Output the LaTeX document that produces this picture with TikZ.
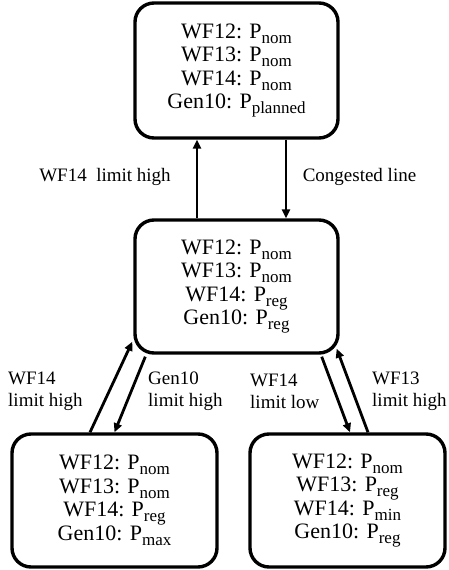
\documentclass[tikz,border=0pt]{standalone}
\usepackage{fontspec}
\setmainfont{Liberation Serif}
\usetikzlibrary{arrows.meta}
\newcommand\sbx[1]{\raisebox{-5pt}{\fontsize{17}{17}\selectfont #1}}
\begin{document}
\begin{tikzpicture}[x=1pt,y=1pt,
  statebox/.style={draw, line width=3.4pt, rounded corners=19pt, align=center,
    inner sep=0pt, font={\fontsize{22}{23.5}\selectfont\lineskiplimit=-30pt}},
  trans/.style={line width=2.8pt, -{Triangle[length=9pt,width=8pt]}},
  lbl/.style={font=\fontsize{19}{22}\selectfont, inner sep=0pt, align=left}]
\useasboundingbox (0,0) rectangle (449,-570);
\node[statebox, minimum width=203pt, minimum height=135pt] (top) at (236.5,-70.5)
  {WF12: P\sbx{nom}\\WF13: P\sbx{nom}\\WF14: P\sbx{nom}\\Gen10: P\sbx{planned}};
\node[statebox, minimum width=203pt, minimum height=133pt] (mid) at (236.5,-286.5)
  {WF12: P\sbx{nom}\\WF13: P\sbx{nom}\\WF14: P\sbx{reg}\\Gen10: P\sbx{reg}};
\node[statebox, minimum width=205pt, minimum height=133pt] (bl) at (114.5,-500.5)
  {WF12: P\sbx{nom}\\WF13: P\sbx{nom}\\WF14: P\sbx{reg}\\Gen10: P\sbx{max}};
\node[statebox, minimum width=195pt, minimum height=133pt] (br) at (347.5,-500.5)
  {WF12: P\sbx{nom}\\WF13: P\sbx{reg}\\WF14: P\sbx{min}\\Gen10: P\sbx{reg}};
% top <-> mid
\draw[trans] ([xshift=-39.5pt]mid.north) -- ([xshift=-39.5pt]top.south);
\draw[trans] ([xshift=49.5pt]top.south) -- ([xshift=49.5pt]mid.north);
% mid <-> bl
\draw[trans] ([xshift=-24.5pt]bl.north) -- ([shift={(-1pt,13pt)}]mid.south west);
\draw[trans] ([shift={(12pt,-2pt)}]mid.south west) -- (bl.north);
% mid <-> br
\draw[trans] ([shift={(-18pt,-2pt)}]mid.south east) -- ([xshift=2.5pt]br.north);
\draw[trans] ([xshift=20.5pt]br.north) -- ([shift={(-3pt,6pt)}]mid.south east);
% labels
\node[lbl] (l1) at (105,-177) {WF14\ \ limit high};
\node[lbl] (l2) at (359.5,-177) {Congested line};
\node[lbl, anchor=west] (l3) at (8,-391) {WF14\\limit high};
\node[lbl, anchor=west] (l4) at (148,-391) {Gen10\\limit high};
\node[lbl, anchor=west] (l5) at (250,-391) {WF14\\limit low};
\node[lbl, anchor=west] (l6) at (372,-391) {WF13\\limit high};
\end{tikzpicture}
\end{document}
